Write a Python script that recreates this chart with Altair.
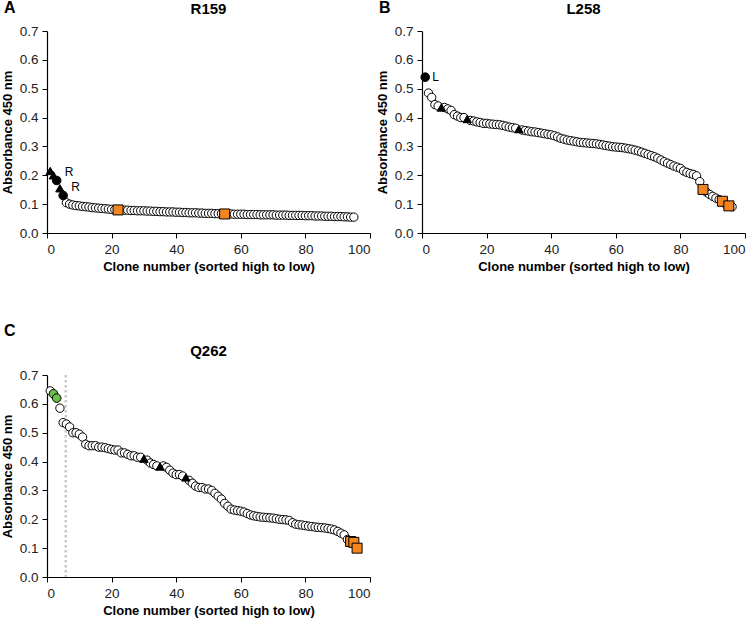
import altair as alt
import pandas as pd

FONT = "Liberation Sans"

# Absorbance at 450 nm for each clone, sorted high to low
r159_values = [
    0.215, 0.200, 0.182, 0.155, 0.130,
    0.105, 0.100, 0.097, 0.095, 0.094,
    0.092, 0.091, 0.090, 0.088, 0.087,
    0.086, 0.085, 0.084, 0.083, 0.082,
    0.081, 0.080, 0.080, 0.079, 0.079,
    0.078, 0.078, 0.077, 0.077, 0.077,
    0.076, 0.076, 0.075, 0.075, 0.074,
    0.074, 0.073, 0.073, 0.073, 0.072,
    0.072, 0.071, 0.071, 0.070, 0.070,
    0.070, 0.069, 0.069, 0.068, 0.068,
    0.068, 0.067, 0.067, 0.067, 0.066,
    0.066, 0.066, 0.065, 0.065, 0.065,
    0.065, 0.064, 0.064, 0.064, 0.064,
    0.063, 0.063, 0.063, 0.063, 0.063,
    0.062, 0.062, 0.062, 0.062, 0.061,
    0.061, 0.061, 0.061, 0.061, 0.060,
    0.060, 0.060, 0.059, 0.059, 0.059,
    0.058, 0.058, 0.058, 0.057, 0.057,
    0.057, 0.056, 0.056, 0.055, 0.055,
]
r159_marks = {1: "triangle", 2: "triangle", 3: "dot", 4: "triangle", 5: "dot",
              22: "square", 55: "square"}
r159_labels = {3: "R", 5: "R"}

l258_values = [
    0.540, 0.485, 0.470, 0.445, 0.440,
    0.435, 0.435, 0.430, 0.425, 0.410,
    0.405, 0.400, 0.400, 0.395, 0.390,
    0.388, 0.385, 0.383, 0.380, 0.380,
    0.378, 0.377, 0.376, 0.375, 0.373,
    0.370, 0.367, 0.365, 0.363, 0.360,
    0.357, 0.355, 0.353, 0.351, 0.350,
    0.348, 0.346, 0.344, 0.342, 0.340,
    0.337, 0.333, 0.328, 0.325, 0.322,
    0.320, 0.318, 0.316, 0.314, 0.313,
    0.312, 0.311, 0.310, 0.309, 0.307,
    0.305, 0.303, 0.301, 0.299, 0.298,
    0.297, 0.296, 0.294, 0.292, 0.290,
    0.287, 0.284, 0.280, 0.276, 0.272,
    0.268, 0.264, 0.259, 0.253, 0.247,
    0.242, 0.237, 0.232, 0.228, 0.224,
    0.215, 0.210, 0.206, 0.203, 0.198,
    0.178, 0.151, 0.142, 0.134, 0.127,
    0.121, 0.116, 0.110, 0.100, 0.094, 0.091,
]
l258_marks = {1: "dot", 6: "triangle", 14: "triangle", 30: "triangle",
              87: "square", 93: "square", 95: "square"}
l258_labels = {1: "L"}

q262_values = [
    0.645, 0.635, 0.620, 0.585, 0.535,
    0.530, 0.520, 0.500, 0.500, 0.495,
    0.485, 0.460, 0.455, 0.455, 0.455,
    0.450, 0.450, 0.448, 0.445, 0.442,
    0.440, 0.440, 0.430, 0.430, 0.425,
    0.420, 0.420, 0.415, 0.415, 0.410,
    0.405, 0.395, 0.390, 0.385, 0.383,
    0.385, 0.380, 0.370, 0.360, 0.355,
    0.355, 0.350, 0.345, 0.335, 0.325,
    0.315, 0.310, 0.310, 0.305, 0.305,
    0.300, 0.290, 0.280, 0.270, 0.255,
    0.245, 0.235, 0.232, 0.230, 0.228,
    0.225, 0.220, 0.215, 0.212, 0.210,
    0.208, 0.207, 0.206, 0.205, 0.204,
    0.202, 0.200, 0.199, 0.198, 0.196,
    0.188, 0.183, 0.181, 0.180, 0.178,
    0.176, 0.175, 0.173, 0.172, 0.171,
    0.170, 0.168, 0.166, 0.163, 0.158,
    0.152, 0.146, 0.130, 0.123, 0.120, 0.100,
]
q262_marks = {2: "green", 3: "green", 30: "triangle", 35: "triangle", 43: "triangle",
              94: "square", 95: "square", 96: "square"}
q262_labels = {}
q262_cutoff = [5.8]

KIND_STYLE = {
    "open": dict(shape="circle", fill="white", size=70),
    "dot": dict(shape="circle", fill="black", size=74),
    "triangle": dict(shape="triangle-up", fill="black", size=72),
    "square": dict(shape="square", fill="#f5861f", size=100),
    "green": dict(shape="circle", fill="#6dbf4b", size=74),
}
DRAW_ORDER = ["open", "dot", "triangle", "green", "square"]

PANEL_W, PANEL_H = 323, 202


def frame(values, marks, labels):
    n = len(values)
    return pd.DataFrame({
        "clone": list(range(1, n + 1)),
        "absorbance": values,
        "kind": [marks.get(i, "open") for i in range(1, n + 1)],
        "label": [labels.get(i, "") for i in range(1, n + 1)],
    })


x_enc = alt.X(
    "clone:Q",
    scale=alt.Scale(domain=[0, 100], nice=False, zero=True),
    axis=alt.Axis(values=[0, 20, 40, 60, 80, 100], format="d",
                  title="Clone number (sorted high to low)"),
)
y_enc = alt.Y(
    "absorbance:Q",
    scale=alt.Scale(domain=[0, 0.7], nice=False),
    axis=alt.Axis(values=[0, 0.1, 0.2, 0.3, 0.4, 0.5, 0.6, 0.7], format=".1f",
                  title="Absorbance 450 nm"),
)


def heading(text, x, y, size, align):
    return alt.Chart(pd.DataFrame({"t": [text]})).mark_text(
        align=align, baseline="alphabetic", fontSize=size, fontWeight="bold",
        font=FONT, color="black",
    ).encode(x=alt.value(x), y=alt.value(y), text="t:N")


def panel(letter, name, values, marks, labels, label_dx, label_dy,
          letter_dy=-18, name_dy=-17, cutoff=None):
    df = frame(values, marks, labels)
    base = alt.Chart(df).encode(x=x_enc, y=y_enc)
    layers = []
    if cutoff is not None:
        layers.append(
            alt.Chart(pd.DataFrame({"clone": cutoff})).mark_rule(
                color="#c9c9c9", strokeWidth=2.5, strokeDash=[2.5, 2.5]
            ).encode(x=x_enc, y=alt.value(0), y2=alt.value(PANEL_H))
        )
    for kind in DRAW_ORDER:
        if kind not in df["kind"].values:
            continue
        st = KIND_STYLE[kind]
        layers.append(
            base.transform_filter(alt.datum.kind == kind).mark_point(
                shape=st["shape"], filled=True, fill=st["fill"], stroke="black",
                strokeWidth=1, size=st["size"], opacity=1,
            )
        )
    if labels:
        layers.append(
            base.transform_filter(alt.datum.label != "").mark_text(
                align="left", baseline="middle", dx=label_dx, dy=label_dy,
                fontSize=12, font=FONT, color="black",
            ).encode(text="label:N")
        )
    layers.append(heading(letter, -43, letter_dy, 16, "left"))
    layers.append(heading(name, PANEL_W / 2, name_dy, 15, "center"))
    return alt.layer(*layers).properties(width=PANEL_W, height=PANEL_H)


pa = panel("A", "R159", r159_values, r159_marks, r159_labels, 8, -8)
pb = panel("B", "L258", l258_values, l258_marks, l258_labels, 7, 0)
pc = panel("C", "Q262", q262_values, q262_marks, q262_labels, 7, 0,
           letter_dy=-39, name_dy=-19, cutoff=q262_cutoff)

chart = alt.concat(
    pa, pb, pc, columns=2, spacing={"row": 142, "column": 52}, bounds="flush"
).properties(
    padding={"left": 1, "top": 0, "right": 0, "bottom": 0},
    background="white",
).configure_view(stroke=None).configure_axis(
    grid=False,
    domainColor="black",
    domainWidth=1.2,
    tickColor="black",
    tickSize=5,
    labelFont=FONT,
    labelFontSize=13.5,
    labelColor="#222222",
    labelPadding=4,
    titleFont=FONT,
    titleFontSize=13,
    titleFontWeight="bold",
    titleColor="black",
    titlePadding=5,
)

chart.save("out.html", embed_options={"renderer": "svg", "actions": False})
